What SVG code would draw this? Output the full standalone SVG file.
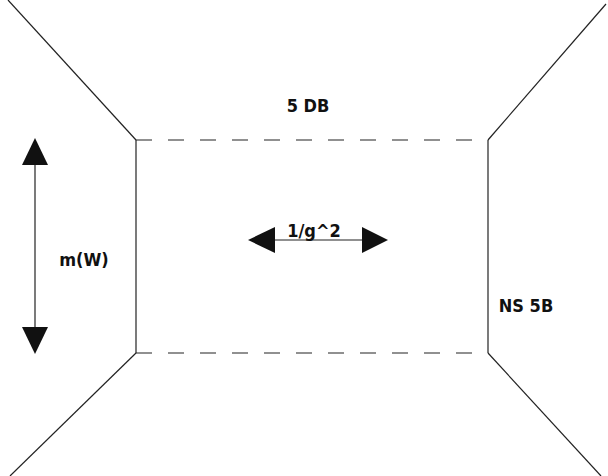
<svg xmlns="http://www.w3.org/2000/svg" width="608" height="476" viewBox="0 0 608 476">
<style>
.ln{stroke:#222;stroke-width:1.2;fill:none}
.dash{stroke:#222;stroke-width:1.2;fill:none;stroke-dasharray:16 16}
.head{fill:#111;stroke:none}
.lbl{font-family:"DejaVu Sans Condensed","DejaVu Sans",sans-serif;font-stretch:condensed;font-weight:bold;font-size:18px;fill:#111}
</style>
<rect width="608" height="476" fill="#fff"/>
<g id="room">
<line class="ln" x1="8" y1="0" x2="136" y2="140"/>
<line class="ln" x1="606" y1="4" x2="488" y2="140"/>
<line class="ln" x1="136" y1="353" x2="10" y2="476"/>
<line class="ln" x1="488" y1="353" x2="601" y2="476"/>
<line class="ln" x1="136" y1="140" x2="136" y2="353"/>
<line class="ln" x1="488" y1="140" x2="488" y2="353"/>
<line class="dash" x1="136" y1="140" x2="488" y2="140"/>
<line class="dash" x1="136" y1="353" x2="488" y2="353"/>
</g>
<g id="connectors">
<line class="ln" x1="35" y1="160" x2="35" y2="332"/>
<polygon class="head" points="35,138 22,165 48,165"/>
<polygon class="head" points="35,354 22,327 48,327"/>
<line class="ln" x1="270" y1="240" x2="366" y2="240"/>
<polygon class="head" points="248,240 275,227 275,253"/>
<polygon class="head" points="388,240 362,227 362,253"/>
</g>
<g id="label-5db"><text class="lbl" x="308" y="112" text-anchor="middle">5 DB</text></g>
<g id="label-mw"><text class="lbl" x="84" y="266" text-anchor="middle">m(W)</text></g>
<g id="label-ns5b"><text class="lbl" x="526" y="312" text-anchor="middle">NS 5B</text></g>
<g id="label-g"><text class="lbl" x="314" y="237" text-anchor="middle">1/g^2</text></g>
</svg>
